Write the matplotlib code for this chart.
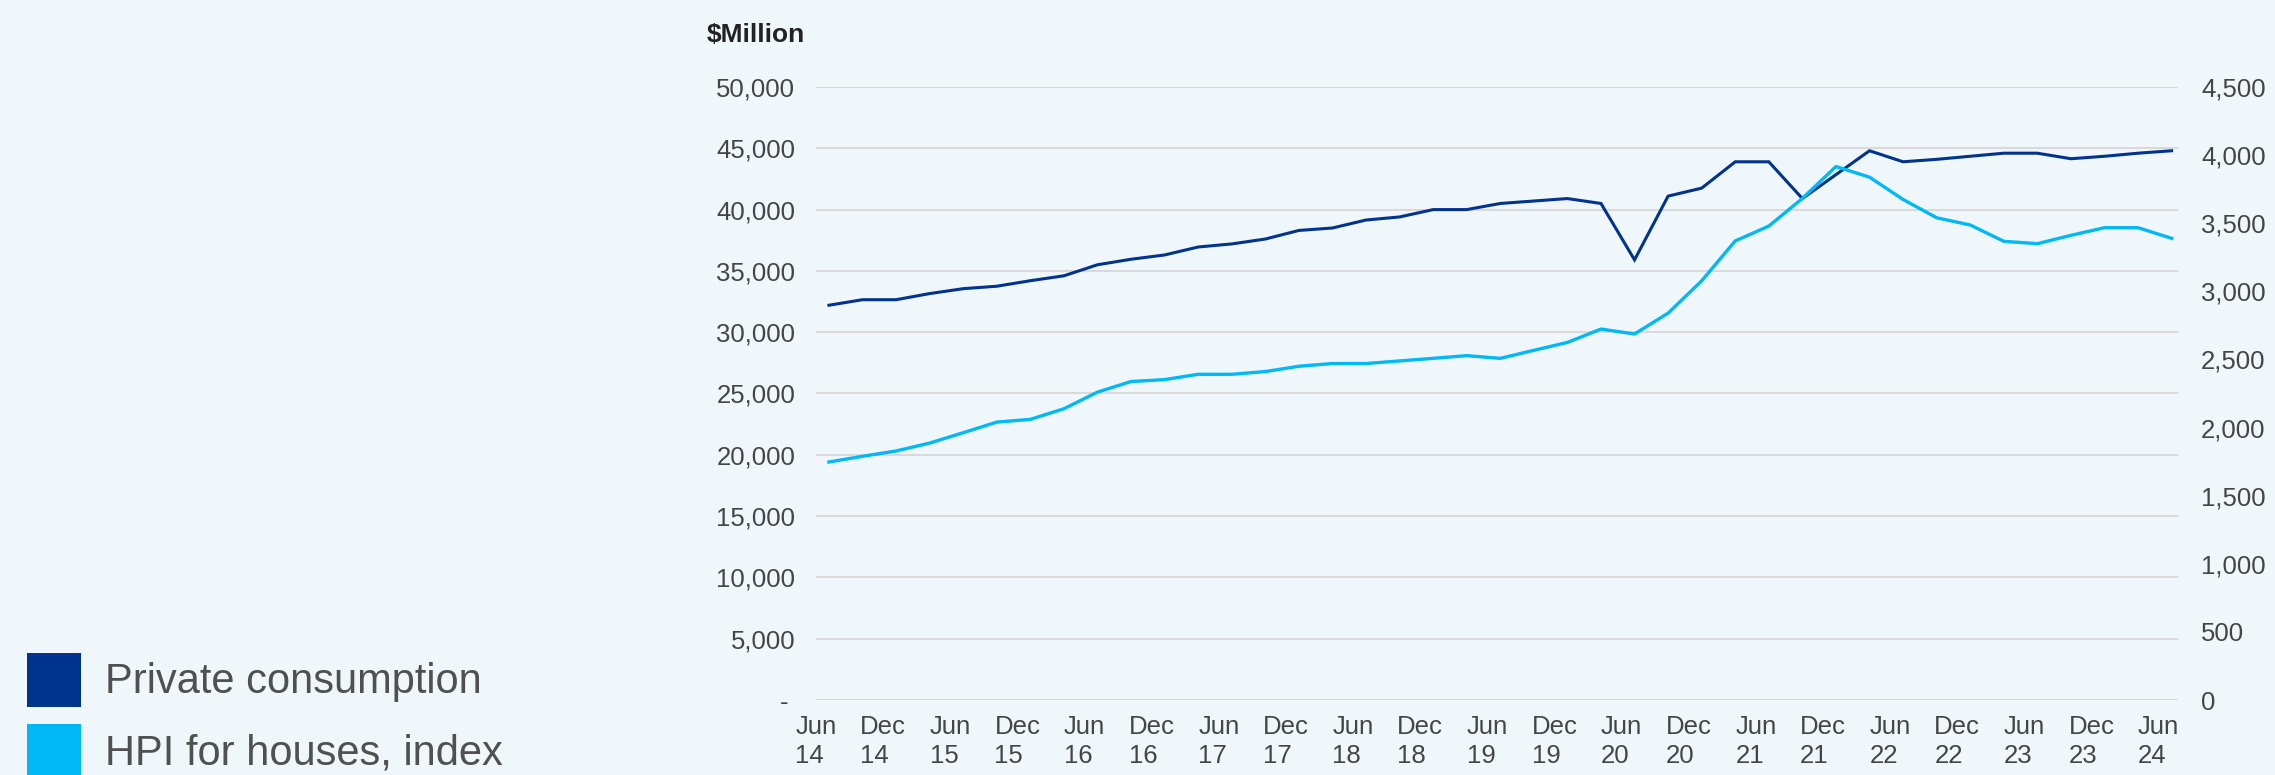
import numpy as np
import matplotlib.pyplot as plt
from matplotlib.patches import Rectangle
from matplotlib.ticker import FuncFormatter, MultipleLocator

# Quarterly series, Jun 14 .. Jun 24
private_consumption = [32200, 32650, 32650, 33150, 33550, 33750, 34200, 34600, 35500, 35950,
                       36300, 36950, 37200, 37600, 38300, 38500, 39150, 39400, 40000, 40000,
                       40500, 40700, 40900, 40500, 35900, 41100, 41750, 43900, 43900, 40900,
                       42850, 44800, 43900, 44100, 44350, 44600, 44600, 44150, 44350, 44600,
                       44800]
hpi_houses = [1747, 1789, 1828, 1886, 1962, 2040, 2060, 2138, 2260, 2338,
              2352, 2391, 2391, 2411, 2450, 2470, 2470, 2489, 2508, 2528,
              2508, 2567, 2625, 2723, 2687, 2840, 3077, 3370, 3479, 3682,
              3916, 3838, 3674, 3540, 3487, 3367, 3350, 3411, 3467, 3467,
              3389]
tick_labels = ["Jun\n14", "Dec\n14", "Jun\n15", "Dec\n15", "Jun\n16", "Dec\n16", "Jun\n17",
               "Dec\n17", "Jun\n18", "Dec\n18", "Jun\n19", "Dec\n19", "Jun\n20", "Dec\n20",
               "Jun\n21", "Dec\n21", "Jun\n22", "Dec\n22", "Jun\n23", "Dec\n23", "Jun\n24"]
series_names = ["Private consumption", "HPI for houses, index"]

DARK = "#00338d"
CYAN = "#00b8f5"
BG = "#f0f7fa"
TXT = "#454545"
GRID = "#d9d9d9"

plt.rcParams['font.family'] = ['Liberation Sans', 'DejaVu Sans']

W, H = 2275, 775
fig = plt.figure(figsize=(W / 100, H / 100), dpi=100, facecolor=BG)

ax = fig.add_axes([816 / W, 75 / H, (2178 - 816) / W, (700 - 87) / H])
ax.set_facecolor(BG)
x = np.arange(len(private_consumption))

ax.set_ylim(0, 50000)
ax.yaxis.set_major_locator(MultipleLocator(5000))
ax.yaxis.set_major_formatter(FuncFormatter(lambda v, p: "- " if v == 0 else f"{int(v):,}"))
ax.grid(axis='y', color=GRID, lw=1.5)
ax.set_axisbelow(True)
ax.tick_params(axis='y', length=0, pad=15, labelsize=18.5, labelcolor=TXT)

ax.set_xlim(-0.18, len(x) - 1 + 0.19)
ax.set_xticks(x[::2] - 0.385)
ax.set_xticklabels(tick_labels, multialignment='left', linespacing=1.25)
ax.tick_params(axis='x', length=0, pad=11, labelsize=18.5, labelcolor=TXT)

ax.plot(x, private_consumption, color=DARK, lw=2.2, solid_joinstyle='miter')

ax2 = ax.twinx()
ax2.set_ylim(0, 4500)
ax2.yaxis.set_major_locator(MultipleLocator(500))
ax2.yaxis.set_major_formatter(FuncFormatter(lambda v, p: f"{int(v):,}"))
ax2.tick_params(axis='y', length=0, pad=16.5, labelsize=18.5, labelcolor=TXT)
ax2.plot(x, hpi_houses, color=CYAN, lw=2.4)

for a in (ax, ax2):
    for s in a.spines.values():
        s.set_visible(False)

fig.text(707 / W, 1 - 41.7 / H, "$Million", ha='left', va='baseline',
         fontsize=19, fontweight='bold', color="#222222")

# legend squares and labels
for i, (name, col) in enumerate(zip(series_names, [DARK, CYAN])):
    top = 653 + i * 71
    fig.patches.append(Rectangle((27 / W, 1 - (top + 54) / H), 54 / W, 54 / H,
                                 transform=fig.transFigure, color=col, lw=0))
    fig.text(105 / W, 1 - (692.7 + i * 72) / H, name, ha='left', va='baseline',
             fontsize=30, color="#505050")

fig.savefig("out.png", dpi=100, facecolor=BG)
